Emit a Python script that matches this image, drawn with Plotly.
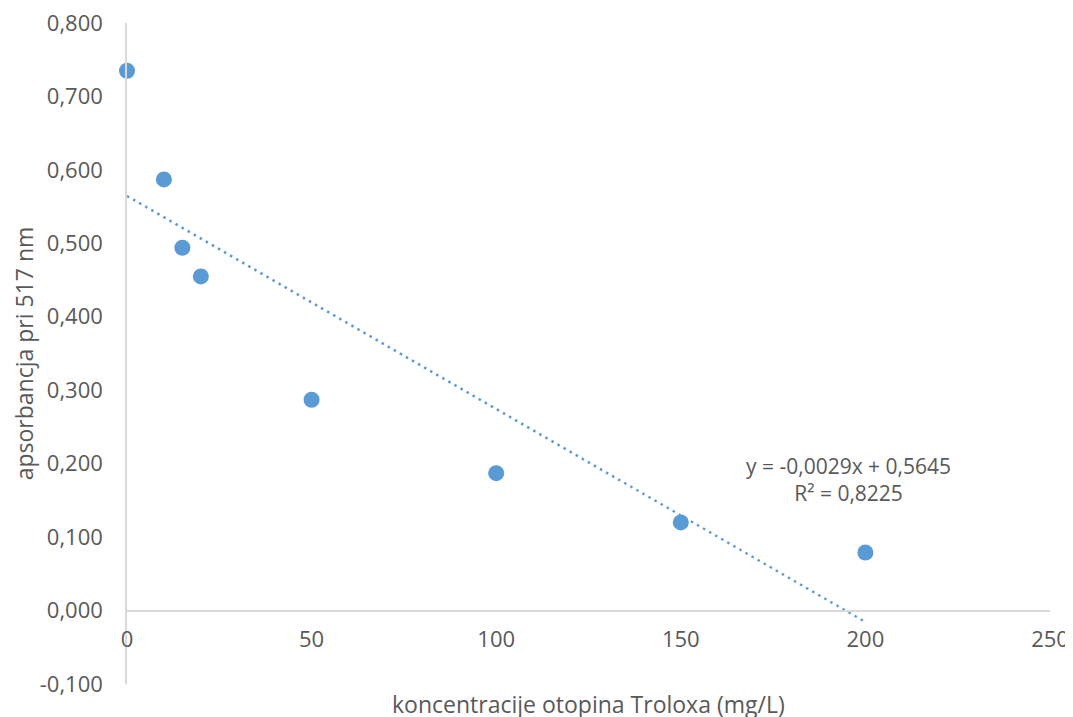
import plotly.graph_objects as go

conc = [0, 10, 15, 20, 50, 100, 150, 200]
absorb = [0.735, 0.587, 0.494, 0.455, 0.287, 0.187, 0.120, 0.079]
slope = -0.0029
intercept = 0.5645
r2 = 0.8225
x_ticks = [0, 50, 100, 150, 200, 250]
y_ticks = [-0.1, 0, 0.1, 0.2, 0.3, 0.4, 0.5, 0.6, 0.7, 0.8]
y_ticktext = [f"{v:.3f}".replace(".", ",") for v in y_ticks]

blue = "#5b9bd5"
grey = "#595959"
axis_col = "#d9d9d9"
font = "Open Sans"

trend_x = [min(conc), max(conc)]
trend_y = [slope * v + intercept for v in trend_x]

fig = go.Figure()
fig.add_trace(go.Scatter(x=trend_x, y=trend_y, mode="lines",
                         line=dict(color=blue, width=2.5, dash="2.5px,4.5px"),
                         hoverinfo="skip", showlegend=False, cliponaxis=False))
fig.add_trace(go.Scatter(x=conc, y=absorb, mode="markers",
                         marker=dict(color=blue, size=16),
                         showlegend=False, cliponaxis=False))

fig.add_annotation(x=195.5, y=0.179, xref="x", yref="y",
                   text="y = -0,0029x + 0,5645<br>R² = 0,8225",
                   showarrow=False, align="center",
                   font=dict(family=font, size=21, color=grey))
fig.add_annotation(x=0.5, y=-0.031, xref="paper", yref="paper",
                   text="koncentracije otopina Troloxa (mg/L)", showarrow=False,
                   yanchor="middle",
                   font=dict(family=font, size=23, color=grey))

fig.update_layout(
    width=1065, height=709,
    margin=dict(l=119, r=23, t=15, b=33),
    plot_bgcolor="white", paper_bgcolor="white",
    font=dict(family=font, size=22, color=grey),
    xaxis=dict(range=[0, 250], tickvals=x_ticks, showgrid=False, zeroline=False,
               showline=True, linecolor=axis_col, linewidth=1.5,
               anchor="free", position=1 / 9, automargin=False,
               ticklabeloverflow="allow",
               ticks="outside", ticklen=9, tickcolor="rgba(0,0,0,0)",
               tickfont=dict(family=font, size=22, color=grey)),
    yaxis=dict(range=[-0.1, 0.8], tickvals=y_ticks, ticktext=y_ticktext,
               showgrid=False, zeroline=False, automargin=False,
               ticklabeloverflow="allow",
               showline=True, linecolor=axis_col, linewidth=1.5,
               ticks="outside", ticklen=18, tickcolor="rgba(0,0,0,0)",
               tickfont=dict(family=font, size=22, color=grey),
               title=dict(text="apsorbancja pri 517 nm", standoff=12,
                          font=dict(family=font, size=23, color=grey))),
)

fig.write_html("out.html")
